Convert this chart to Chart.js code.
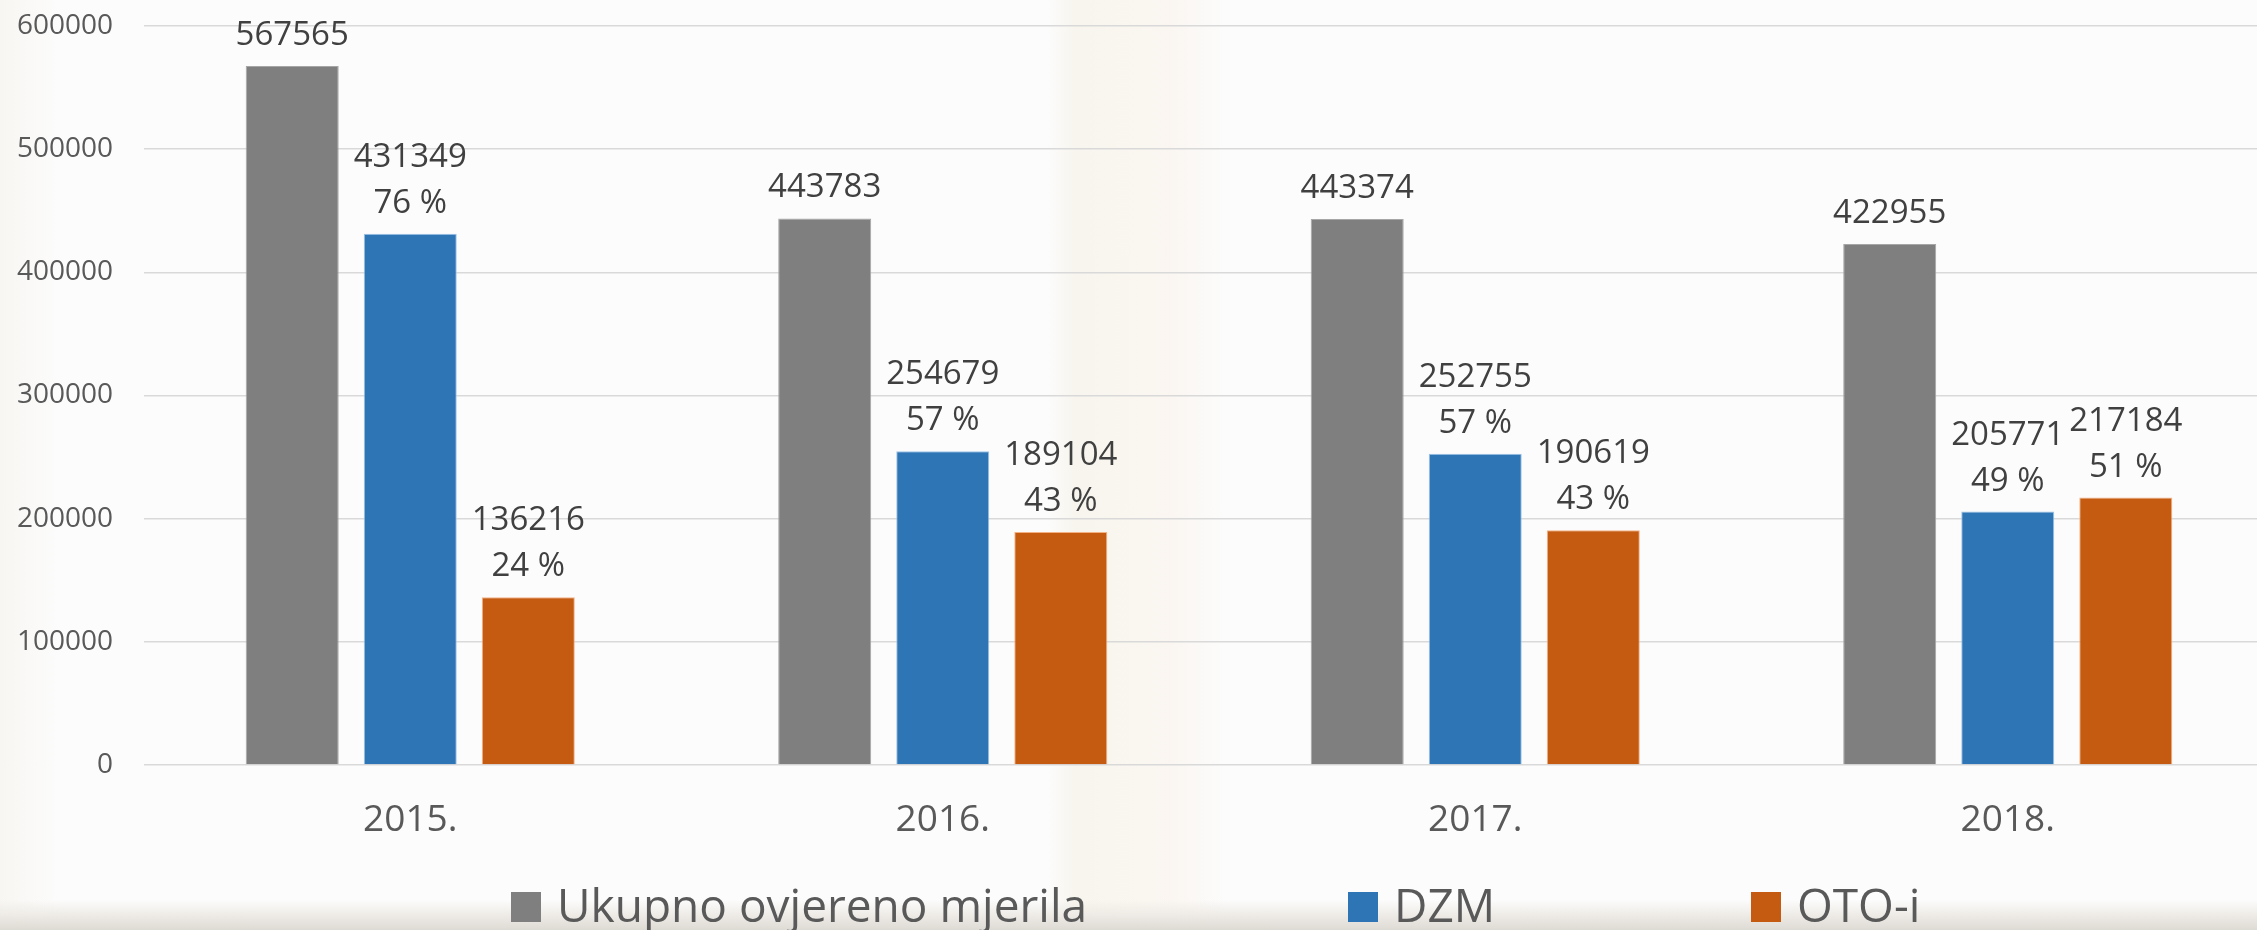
<!DOCTYPE html>
<html lang="hr">
<head>
    <meta charset="UTF-8">
    <title>Ovjereno mjerila 2015. - 2018.</title>

    <!-- Chart.js -->
    <script src="https://cdn.jsdelivr.net/npm/chart.js"></script>

    <style>
        html, body {
            margin: 0;
            padding: 0;
            width: 2257px;
            height: 930px;
            overflow: hidden;
        }
        body {
            position: relative;
            font-family: "Open Sans", "Noto Sans", sans-serif;
            background-color: #fcfcfc;
            /* blijeda pozadinska fotografija - samo približno */
            background-image:
                linear-gradient(to bottom, rgba(0,0,0,0) 900px, rgba(238,235,230,0.9) 914px, rgba(222,218,212,1) 930px),
                linear-gradient(to right, rgba(0,0,0,0) 1048px, rgba(246,243,234,0.8) 1075px, rgba(249,245,236,0.8) 1120px, rgba(250,244,238,0.8) 1170px, rgba(0,0,0,0) 1225px),
                linear-gradient(to right, rgba(245,242,236,0.6) 0px, rgba(0,0,0,0) 60px);
        }
        #chart {
            position: absolute;
            left: 0;
            top: 0;
        }
        .legend-box {
            position: absolute;
            width: 30px;
            height: 30px;
            top: 892px;
        }
        .legend-text {
            position: absolute;
            top: 881px;
            font-size: 46px;
            line-height: 46px;
            color: #595959;
            white-space: nowrap;
        }
    </style>
</head>
<body>

    <canvas id="chart" width="2290" height="930"></canvas>
    <div id="legend"></div>

    <script>
        // Kategorije (godine)
        const years = ["2015.", "2016.", "2017.", "2018."];

        // Serije
        const seriesNames = ["Ukupno ovjereno mjerila", "DZM", "OTO-i"];
        const ukupno = [567565, 443783, 443374, 422955];
        const dzm = [431349, 254679, 252755, 205771];
        const oto = [136216, 189104, 190619, 217184];

        // Postoci ispisani iznad stupaca
        const dzmPct = [76, 57, 57, 49];
        const otoPct = [24, 43, 43, 51];

        // Oznake osi y
        const yTicks = [0, 100000, 200000, 300000, 400000, 500000, 600000];

        const colors = ["#7f7f7f", "#2e75b6", "#c55a11"];
        const borders = ["#a6a6a6", "#9dc3e6", "#f4b183"];
        const pctLabels = [null, dzmPct, otoPct];

        // Ispis vrijednosti (i postotka) iznad svakog stupca
        const valueLabels = {
            id: "valueLabels",
            afterDatasetsDraw(chart) {
                const ctx = chart.ctx;
                ctx.save();
                ctx.font = '33px "Open Sans"';
                ctx.fillStyle = "#404040";
                ctx.textAlign = "center";
                ctx.textBaseline = "alphabetic";
                chart.data.datasets.forEach((ds, di) => {
                    chart.getDatasetMeta(di).data.forEach((bar, i) => {
                        const lines = [String(ds.data[i])];
                        if (pctLabels[di]) lines.push(pctLabels[di][i] + " %");
                        let y = bar.y - 21;
                        for (let k = lines.length - 1; k >= 0; k--) {
                            ctx.fillText(lines[k], bar.x, y);
                            y -= 46;
                        }
                    });
                });
                ctx.restore();
            }
        };

        new Chart(document.getElementById("chart"), {
            type: "bar",
            data: {
                labels: years,
                datasets: [ukupno, dzm, oto].map((values, i) => ({
                    label: seriesNames[i],
                    data: values,
                    backgroundColor: colors[i],
                    borderColor: borders[i],
                    borderWidth: 1,
                    categoryPercentage: 0.665,
                    barPercentage: 0.788
                }))
            },
            options: {
                responsive: false,
                animation: false,
                devicePixelRatio: 1,
                layout: {
                    padding: { left: 17, right: 16, top: 26, bottom: 88 }
                },
                plugins: {
                    legend: { display: false },
                    tooltip: { enabled: false }
                },
                scales: {
                    x: {
                        grid: { display: false },
                        border: { display: false },
                        afterFit: axis => {
                            axis.height = 77;
                            axis.paddingLeft = 0;
                            axis.paddingRight = 0;
                        },
                        ticks: {
                            padding: 25,
                            color: "#595959",
                            font: { family: "Open Sans", size: 37 }
                        }
                    },
                    y: {
                        min: 0,
                        max: 600000,
                        afterBuildTicks: axis => {
                            axis.ticks = yTicks.map(v => ({ value: v }));
                        },
                        afterFit: axis => {
                            axis.width = 127;
                            axis.paddingTop = 0;
                            axis.paddingBottom = 0;
                        },
                        grid: { color: "#d9d9d9", lineWidth: 1.5, drawTicks: false },
                        border: { display: false },
                        ticks: {
                            padding: 31,
                            color: "#595959",
                            font: { family: "Open Sans", size: 28 },
                            callback: v => String(v)
                        }
                    }
                }
            },
            plugins: [valueLabels]
        });

        // Legenda ispod grafikona
        const legendPos = [511, 1348, 1751];
        const legend = document.getElementById("legend");
        seriesNames.forEach((name, i) => {
            const box = document.createElement("div");
            box.className = "legend-box";
            box.style.left = legendPos[i] + "px";
            box.style.background = colors[i];
            legend.appendChild(box);

            const text = document.createElement("div");
            text.className = "legend-text";
            text.style.left = (legendPos[i] + 46) + "px";
            text.textContent = name;
            legend.appendChild(text);
        });
    </script>

</body>
</html>
